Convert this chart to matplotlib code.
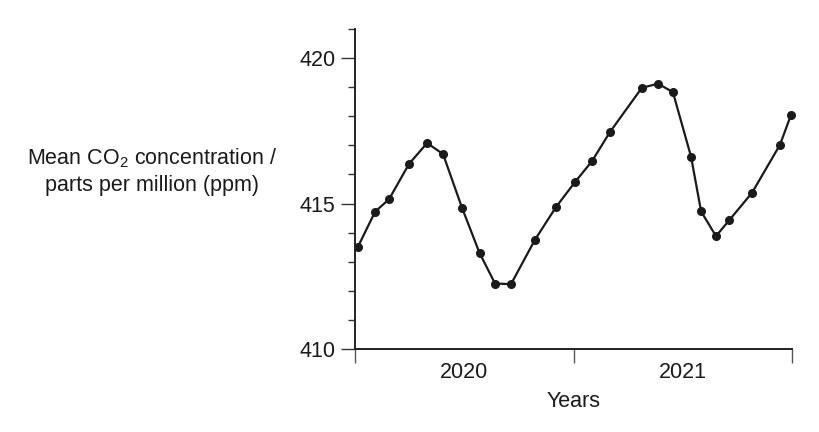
import numpy as np
import matplotlib.pyplot as plt
from matplotlib.ticker import MultipleLocator, FixedLocator

plt.rcParams['font.family'] = ['Liberation Sans', 'DejaVu Sans']
plt.rcParams['mathtext.fontset'] = 'custom'
plt.rcParams['mathtext.rm'] = 'Liberation Sans'
plt.rcParams['mathtext.it'] = 'Liberation Sans'

# time as decimal year
years = [2020.014, 2020.092, 2020.156, 2020.247, 2020.330, 2020.403, 2020.490,
         2020.570, 2020.641, 2020.714, 2020.824, 2020.920, 2021.007, 2021.085,
         2021.167, 2021.313, 2021.387, 2021.455, 2021.538, 2021.584, 2021.652,
         2021.712, 2021.817, 2021.945, 2021.995]
co2_ppm = [413.52, 414.72, 415.15, 416.36, 417.08, 416.70, 414.85,
           413.30, 412.25, 412.23, 413.76, 414.88, 415.74, 416.46,
           417.46, 418.98, 419.12, 418.83, 416.61, 414.73, 413.88,
           414.42, 415.37, 417.02, 418.04]
year_labels = ['2020', '2021']

FS = 15.5

fig = plt.figure(figsize=(8.2, 4.32), dpi=100)
ax = fig.add_axes([355 / 820, 1 - 349 / 432, 437 / 820, 320 / 432])

ax.plot(years, co2_ppm, color='#1a1a1a', lw=1.6, marker='o', ms=5.5,
        clip_on=False)

ax.set_xlim(2020, 2022)
ax.set_ylim(410, 421)

for side in ['top', 'right']:
    ax.spines[side].set_visible(False)
for side in ['left', 'bottom']:
    ax.spines[side].set_color('#222222')
    ax.spines[side].set_linewidth(1.4)

# y ticks
ax.yaxis.set_major_locator(FixedLocator([410, 415, 420]))
ax.yaxis.set_minor_locator(MultipleLocator(1))
ax.tick_params(axis='y', which='major', direction='out', length=10, width=1,
               color='#333333', labelsize=FS, pad=4, labelcolor='#1a1a1a')
ax.tick_params(axis='y', which='minor', direction='out', length=5, width=1,
               color='#333333')

# x ticks: boundaries unlabelled, year labels centred between them
ax.xaxis.set_major_locator(FixedLocator([2020, 2021, 2022]))
ax.xaxis.set_minor_locator(FixedLocator([2020.5, 2021.5]))
ax.set_xticklabels([], minor=False)
ax.set_xticklabels(year_labels, minor=True)
ax.tick_params(axis='x', which='major', direction='out', length=10, width=1,
               color='#555555')
ax.tick_params(axis='x', which='minor', length=0, labelsize=FS, pad=9,
               labelcolor='#1a1a1a')

ax.set_xlabel('Years', fontsize=FS, labelpad=6, color='#1a1a1a')

fig.text(152 / 820, 1 - 171 / 432,
         'Mean CO$_2$ concentration /\nparts per million (ppm)',
         ha='center', va='center', fontsize=FS, linespacing=1.3,
         color='#1a1a1a')

fig.savefig('out.png', dpi=100)
